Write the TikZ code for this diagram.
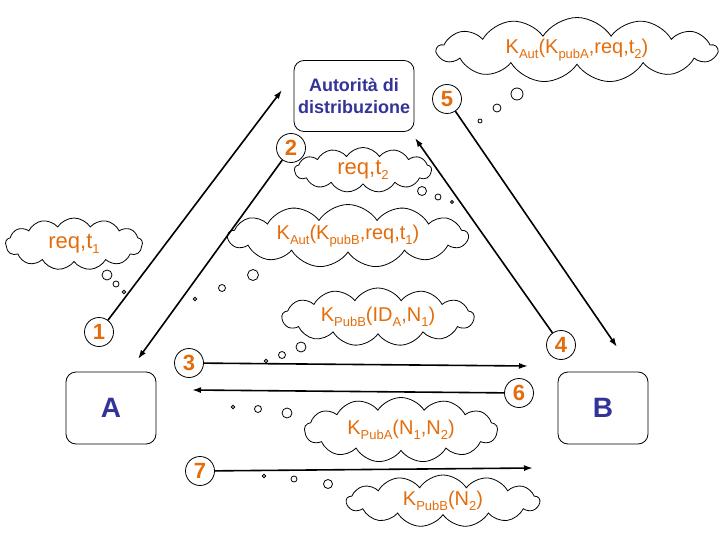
\documentclass[tikz,border=0pt]{standalone}
\usepackage{fontspec}
\setmainfont{Liberation Sans}
\usetikzlibrary{shapes.symbols,arrows.meta}
\definecolor{orng}{RGB}{228,108,10}
\definecolor{dblue}{RGB}{51,51,153}
\newcommand\sbs[1]{\raisebox{-0.45ex}{\fontsize{13}{13}\selectfont #1}}
\begin{document}
\begin{tikzpicture}[x=1pt,y=-1pt,
 thought/.style={cloud, cloud puffs=13, cloud puff arc=115, cloud ignores aspect, draw, line width=0.8pt, inner sep=0pt, text=orng, font=\fontsize{20}{22}\selectfont},
 numc/.style={circle, draw, line width=0.8pt, minimum size=29pt, inner sep=0pt, text=orng, font=\fontsize{22}{22}\selectfont\bfseries},
 party/.style={rounded corners=10pt, draw, line width=0.8pt, text=dblue, inner sep=0pt},
 msg/.style={line width=1.6pt, -{Latex[length=9pt,width=6pt]}},
 bub/.style={draw, line width=0.8pt}]
\useasboundingbox (0,0) rectangle (720,540);

% parties
\node[party, minimum width=120pt, minimum height=71pt, align=center, font=\fontsize{18}{22}\selectfont\bfseries] (aut) at (354,96) {Autorità di\\distribuzione};
\node[party, minimum width=90pt, minimum height=72pt, font=\fontsize{28}{28}\selectfont\bfseries] (A) at (111,408) {A};
\node[party, minimum width=90pt, minimum height=72pt, font=\fontsize{28}{28}\selectfont\bfseries] (B) at (603,408) {B};

% step numbers
\node[numc] (n1) at (99,332) {1};
\node[numc] (n2) at (291,148) {2};
\node[numc] (n3) at (189,363) {3};
\node[numc] (n4) at (561,345) {4};
\node[numc] (n5) at (447,99) {5};
\node[numc] (n6) at (519,393) {6};
\node[numc] (n7) at (200,471) {7};

% arrow tips
\coordinate (e1) at (282,90);
\coordinate (e2) at (138,359);
\coordinate (e3) at (528,366);
\coordinate (e4) at (415,138);
\coordinate (e5) at (617,347);
\coordinate (e6) at (192,390);
\coordinate (e7) at (533,468);

\draw[msg] (n1) -- (e1);
\draw[msg] (n2) -- (e2);
\draw[msg] (n3) -- (e3);
\draw[msg] (n4) -- (e4);
\draw[msg] (n5) -- (e5);
\draw[msg] (n6) -- (e6);
\draw[msg] (n7) -- (e7);

% clouds
\node[thought, minimum width=280pt, minimum height=65pt] (c5) at (577,50) {K\sbs{Aut}(K\sbs{pubA},req,t\sbs{2})};
\node[thought, minimum width=137pt, minimum height=45pt, font=\fontsize{22}{22}\selectfont] (c2) at (363,170) {req,t\sbs{2}};
\node[thought, minimum width=240pt, minimum height=63pt] (c2b) at (348,236) {K\sbs{Aut}(K\sbs{pubB},req,t\sbs{1})};
\node[thought, minimum width=137pt, minimum height=52pt, font=\fontsize{22}{22}\selectfont] (c1) at (74,244) {req,t\sbs{1}};
\node[thought, minimum width=192pt, minimum height=58pt] (c3) at (378,317) {K\sbs{PubB}(ID\sbs{A},N\sbs{1})};
\node[thought, minimum width=193pt, minimum height=65pt] (c6) at (401,430) {K\sbs{PubA}(N\sbs{1},N\sbs{2})};
\node[thought, minimum width=193pt, minimum height=52pt] (c7) at (443,501) {K\sbs{PubB}(N\sbs{2})};

% thought bubbles
\draw[bub] (517,94) circle (6) (497,108) circle (4) (480,121) circle (2);
\draw[bub] (422,191) circle (4.5) (438,197) circle (3) (452,202) circle (1.5);
\draw[bub] (253,275) circle (5.5) (222,288) circle (3.5) (195,299) circle (1.8);
\draw[bub] (107,275) circle (5) (116,284) circle (3) (124,292) circle (1.8);
\draw[bub] (301,347) circle (5) (282,355) circle (3.5) (266,361) circle (1.8);
\draw[bub] (287,413) circle (5) (258,409) circle (3.5) (233,407) circle (1.8);
\draw[bub] (328,484) circle (4.5) (294,479) circle (3) (264,476) circle (1.8);
\end{tikzpicture}
\end{document}
